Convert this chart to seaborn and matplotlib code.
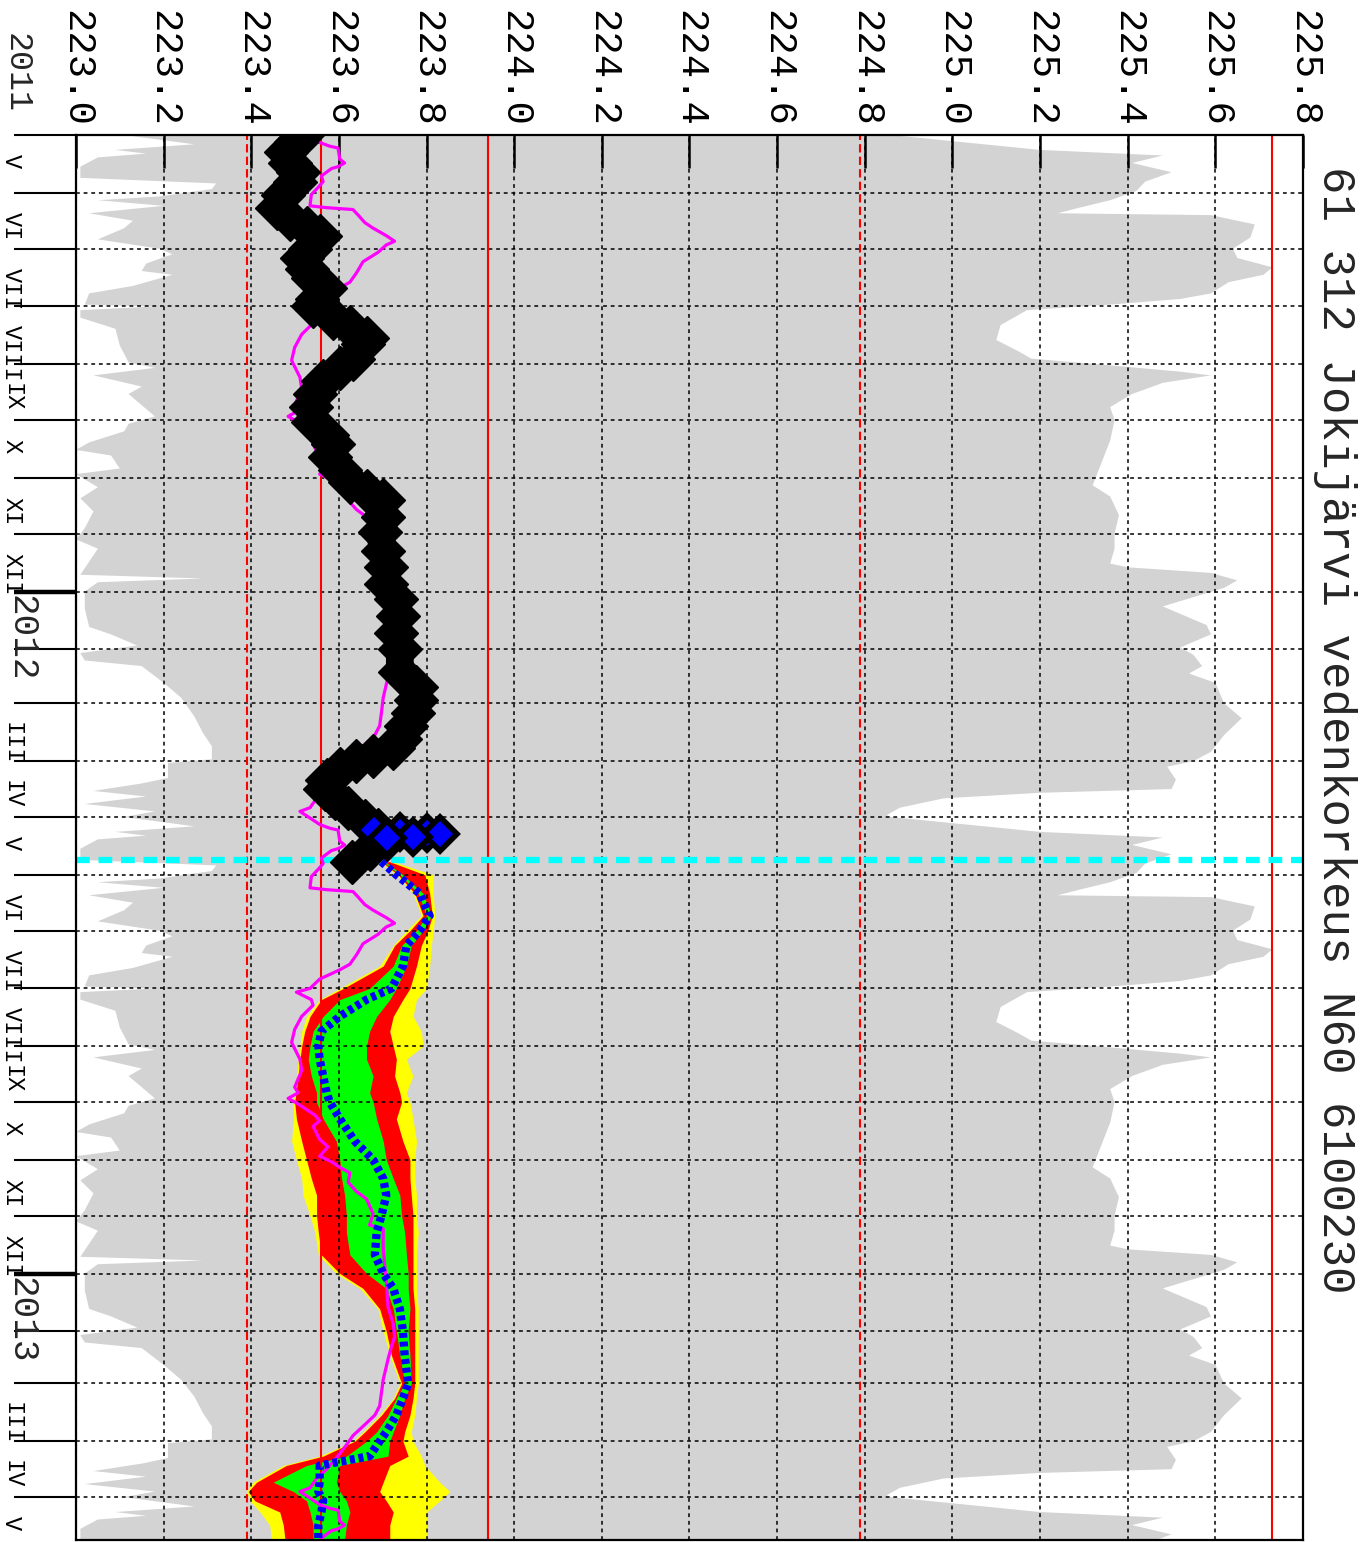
import pandas as pd
import numpy as np
import seaborn as sns
import matplotlib
matplotlib.use("Agg")
from matplotlib import pyplot as plt
import matplotlib.dates as mdates
import matplotlib.transforms as mtransforms
from matplotlib.ticker import FuncFormatter, NullFormatter

START = pd.Timestamp("2011-05-01")
END = pd.Timestamp("2013-05-24")
NOW = pd.Timestamp("2012-05-24")

title = "61 312 Jokijärvi vedenkorkeus N60 6100230"
value_ticks = [223.0, 223.2, 223.4, 223.6, 223.8, 224.0, 224.2, 224.4,
               224.6, 224.8, 225.0, 225.2, 225.4, 225.6, 225.8]
roman = ["", "I", "II", "III", "IV", "V", "VI", "VII", "VIII", "IX", "X", "XI", "XII"]
year_labels = ["2012", "2013"]

# reference levels (red lines)
ref_solid = [223.56, 223.94, 225.73]
ref_dashed = [223.0, 223.39, 224.79]

# climatology by day of year (season May -> April)
max_md = ["05-01", "05-09", "05-12", "05-16", "05-21", "05-26", "05-31",
          "06-05", "06-09", "06-12", "06-13", "06-18", "06-25",
          "07-01", "07-06", "07-11", "07-15", "07-19", "07-25", "07-28", "07-31",
          "08-03", "08-11", "08-19", "08-25", "08-29",
          "09-01", "09-05", "09-07", "09-11", "09-17", "09-24",
          "10-01", "10-12", "10-24",
          "11-05", "11-11", "11-21",
          "12-01", "12-09", "12-17", "12-19", "12-22", "12-26", "12-30",
          "01-04", "01-09", "01-19", "01-24", "01-31",
          "02-04", "02-10", "02-14", "02-19",
          "03-01", "03-09", "03-18", "03-27",
          "04-01", "04-04", "04-11", "04-16", "04-18", "04-21", "04-26", "04-30"]
max_level = [224.86, 225.20, 225.48, 225.41, 225.50, 225.44, 225.42,
             225.36, 225.29, 225.24, 225.59, 225.69, 225.68,
             225.64, 225.65, 225.73, 225.71, 225.63, 225.59, 225.52, 225.36,
             225.17, 225.11, 225.10, 225.15, 225.18,
             225.33, 225.52, 225.59, 225.48, 225.41, 225.36,
             225.37, 225.36, 225.34,
             225.32, 225.36, 225.38,
             225.37, 225.37, 225.36, 225.40, 225.59, 225.65, 225.62,
             225.55, 225.48, 225.58, 225.59, 225.52,
             225.55, 225.57, 225.54, 225.60,
             225.62, 225.66, 225.62, 225.59,
             225.55, 225.49, 225.51, 225.50, 225.20, 224.98, 224.88, 224.85]

min_md = ["05-01", "05-06", "05-09", "05-11", "05-13", "05-18", "05-24", "05-27", "05-30",
          "06-03", "06-05", "06-08", "06-12", "06-16", "06-20", "06-26",
          "07-01", "07-04", "07-09", "07-13", "07-15", "07-21", "07-25", "07-31",
          "08-01", "08-03", "08-07", "08-13", "08-22", "08-31",
          "09-03", "09-07", "09-13", "09-17", "09-25", "09-29",
          "10-03", "10-07", "10-13", "10-17", "10-20", "10-27", "10-30",
          "11-06", "11-12", "11-19", "11-28",
          "12-04", "12-09", "12-16", "12-23", "12-25", "12-27",
          "01-01", "01-10", "01-20", "01-24", "01-30",
          "02-03", "02-07", "02-10", "02-19", "02-27",
          "03-08", "03-17", "03-24", "03-31",
          "04-02", "04-10", "04-13", "04-17", "04-20", "04-24", "04-28"]
min_level = [223.11, 223.27, 223.09, 223.16, 223.05, 223.01, 223.01, 223.32, 223.31,
             223.19, 223.05, 223.20, 223.03, 223.13, 223.11, 223.05,
             223.19, 223.22, 223.16, 223.15, 223.22, 223.13, 223.03, 223.02,
             223.18, 223.01, 223.01, 223.09, 223.10, 223.12,
             223.18, 223.04, 223.15, 223.12, 223.16, 223.18,
             223.12, 223.11, 223.03, 223.00, 223.08, 223.10, 223.00,
             223.05, 223.01, 223.04, 223.02,
             223.00, 223.05, 223.03, 223.01, 223.29, 223.05,
             223.02, 223.02, 223.03, 223.08, 223.14,
             223.01, 223.02, 223.15, 223.20, 223.24,
             223.27, 223.29, 223.31, 223.31,
             223.21, 223.21, 223.15, 223.04, 223.16, 223.02, 223.18]

mean_md = ["05-02", "05-05", "05-07", "05-08", "05-14", "05-16", "05-18", "05-19", "05-23", "05-26", "05-29",
           "06-02", "06-08", "06-09", "06-10", "06-13", "06-17", "06-20", "06-24", "06-27", "06-29",
           "07-03", "07-08", "07-14", "07-19", "07-22", "07-27",
           "08-01", "08-03", "08-07", "08-10", "08-16", "08-23", "08-30",
           "09-08", "09-14", "09-23", "09-26", "09-29",
           "10-02", "10-08", "10-11", "10-14", "10-21", "10-25", "10-30",
           "11-02", "11-05", "11-08", "11-13", "11-18", "11-22", "11-30",
           "12-06", "12-08", "12-18", "12-29",
           "01-05", "01-19", "01-28",
           "02-04", "02-09", "02-16", "02-27",
           "03-06", "03-13", "03-18", "03-24", "03-29",
           "04-03", "04-10", "04-16", "04-21", "04-26", "04-28"]
mean_level = [223.537, 223.556, 223.579, 223.598, 223.602, 223.613, 223.598, 223.583, 223.560, 223.564, 223.553,
              223.537, 223.534, 223.572, 223.632, 223.644, 223.659, 223.678, 223.708, 223.727, 223.708,
              223.689, 223.655, 223.640, 223.625, 223.602, 223.556,
              223.534, 223.503, 223.537, 223.541, 223.515, 223.499, 223.492,
              223.511, 223.515, 223.499, 223.507, 223.484,
              223.507, 223.545, 223.556, 223.541, 223.556, 223.575, 223.556,
              223.583, 223.602, 223.625, 223.621, 223.640, 223.663, 223.678,
              223.670, 223.701, 223.701, 223.705,
              223.708, 223.712, 223.724,
              223.727, 223.720, 223.712, 223.701,
              223.697, 223.693, 223.682, 223.655, 223.632,
              223.617, 223.594, 223.572, 223.549, 223.534, 223.511]

# observed water level
obs_dates = ["2011-05-01", "2011-05-05", "2011-05-10", "2011-05-16", "2011-05-21", "2011-05-26",
             "2011-06-02", "2011-06-09", "2011-06-15", "2011-06-20", "2011-06-24",
             "2011-07-01", "2011-07-06", "2011-07-12", "2011-07-17", "2011-07-22", "2011-07-28",
             "2011-08-01", "2011-08-07", "2011-08-12", "2011-08-18", "2011-08-21", "2011-08-29",
             "2011-09-03", "2011-09-10", "2011-09-17", "2011-09-24",
             "2011-10-02", "2011-10-09", "2011-10-14", "2011-10-21", "2011-10-28",
             "2011-11-03", "2011-11-08", "2011-11-13", "2011-11-22", "2011-11-30",
             "2011-12-10", "2011-12-19", "2011-12-28",
             "2012-01-05", "2012-01-14", "2012-01-23",
             "2012-02-01", "2012-02-13", "2012-02-21", "2012-02-28",
             "2012-03-06", "2012-03-13", "2012-03-20", "2012-03-25", "2012-03-29",
             "2012-04-01", "2012-04-05", "2012-04-11", "2012-04-16", "2012-04-21", "2012-04-26",
             "2012-05-03", "2012-05-08", "2012-05-13", "2012-05-18", "2012-05-25"]
obs_level = [223.515, 223.503, 223.480, 223.488, 223.507, 223.499,
             223.473, 223.458, 223.488, 223.526, 223.556,
             223.534, 223.515, 223.526, 223.541, 223.568, 223.549,
             223.541, 223.587, 223.625, 223.663, 223.655, 223.632,
             223.602, 223.564, 223.545, 223.537,
             223.541, 223.572, 223.587, 223.579, 223.602,
             223.625, 223.663, 223.701, 223.701, 223.693,
             223.701, 223.708, 223.708,
             223.731, 223.735, 223.731,
             223.739, 223.739, 223.777, 223.777,
             223.769, 223.754, 223.739, 223.724, 223.678,
             223.640, 223.602, 223.572, 223.568, 223.590, 223.620,
             223.660, 223.690, 223.710, 223.670, 223.630]

spike_dates = ["2012-05-08 00:00", "2012-05-09 00:00", "2012-05-09 12:00", "2012-05-10 00:00",
               "2012-05-11 12:00", "2012-05-12 12:00"]
spike_level = [223.68, 223.74, 223.80, 223.83, 223.77, 223.71]

# forecast bands
fc_dates = ["2012-05-25", "2012-06-01", "2012-06-11", "2012-06-23", "2012-07-01", "2012-07-09",
            "2012-07-20", "2012-08-01", "2012-08-07", "2012-08-16", "2012-08-24", "2012-09-01",
            "2012-09-08", "2012-09-17", "2012-09-26", "2012-10-01", "2012-10-10", "2012-10-22",
            "2012-11-01", "2012-11-11", "2012-11-20", "2012-12-01", "2012-12-10", "2012-12-22",
            "2013-01-01", "2013-01-09", "2013-01-20", "2013-02-01", "2013-02-14", "2013-03-01",
            "2013-03-09", "2013-03-18", "2013-03-27", "2013-04-01", "2013-04-09", "2013-04-14",
            "2013-04-23", "2013-04-28", "2013-05-03", "2013-05-09", "2013-05-16", "2013-05-24"]
fc_yellow_lo = [223.693, 223.731, 223.769, 223.788, 223.754, 223.724, 223.693, 223.602, 223.556, 223.526,
                223.515, 223.511, 223.507, 223.503, 223.499, 223.496, 223.496, 223.492, 223.503, 223.515,
                223.518, 223.534, 223.545, 223.553, 223.594, 223.648, 223.689, 223.701, 223.716, 223.739,
                223.724, 223.693, 223.655, 223.632, 223.556, 223.473, 223.404, 223.389, 223.397, 223.420,
                223.442, 223.446]
fc_red_lo = [223.697, 223.735, 223.773, 223.792, 223.762, 223.727, 223.701, 223.610, 223.560, 223.534,
             223.522, 223.515, 223.511, 223.507, 223.502, 223.499, 223.503, 223.515, 223.526, 223.537,
             223.549, 223.549, 223.553, 223.560, 223.602, 223.655, 223.693, 223.708, 223.720, 223.743,
             223.727, 223.697, 223.659, 223.636, 223.564, 223.480, 223.412, 223.393, 223.408, 223.465,
             223.473, 223.477]
fc_green_lo = [223.701, 223.739, 223.781, 223.800, 223.777, 223.743, 223.724, 223.670, 223.602, 223.564,
               223.541, 223.534, 223.530, 223.537, 223.549, 223.549, 223.564, 223.594, 223.602, 223.606,
               223.613, 223.617, 223.617, 223.625, 223.663, 223.708, 223.724, 223.731, 223.739, 223.750,
               223.731, 223.712, 223.686, 223.663, 223.617, 223.526, 223.450, 223.496, 223.526, 223.534,
               223.541, 223.541]
fc_median = [223.697, 223.731, 223.784, 223.807, 223.784, 223.754, 223.746, 223.720, 223.663, 223.602,
             223.560, 223.553, 223.556, 223.564, 223.572, 223.579, 223.602, 223.636, 223.678, 223.701,
             223.708, 223.697, 223.686, 223.682, 223.701, 223.724, 223.739, 223.746, 223.750, 223.758,
             223.746, 223.731, 223.708, 223.693, 223.670, 223.556, 223.556, 223.553, 223.564, 223.560,
             223.553, 223.553]
fc_green_hi = [223.705, 223.746, 223.792, 223.811, 223.792, 223.765, 223.754, 223.731, 223.716, 223.686,
               223.670, 223.663, 223.663, 223.678, 223.670, 223.678, 223.686, 223.701, 223.708, 223.724,
               223.739, 223.743, 223.750, 223.754, 223.758, 223.758, 223.762, 223.758, 223.762, 223.765,
               223.750, 223.739, 223.724, 223.716, 223.712, 223.602, 223.594, 223.602, 223.617, 223.625,
               223.617, 223.613]
fc_red_hi = [223.716, 223.796, 223.807, 223.813, 223.803, 223.788, 223.777, 223.762, 223.746, 223.724,
             223.716, 223.724, 223.731, 223.727, 223.739, 223.743, 223.731, 223.746, 223.762, 223.762,
             223.765, 223.769, 223.769, 223.769, 223.769, 223.769, 223.773, 223.773, 223.773, 223.773,
             223.769, 223.762, 223.750, 223.746, 223.758, 223.716, 223.701, 223.693, 223.708, 223.724,
             223.716, 223.716]
fc_yellow_hi = [223.724, 223.815, 223.815, 223.819, 223.815, 223.811, 223.807, 223.800, 223.777, 223.769,
                223.788, 223.792, 223.754, 223.769, 223.754, 223.762, 223.769, 223.777, 223.773, 223.773,
                223.777, 223.777, 223.781, 223.777, 223.777, 223.777, 223.781, 223.781, 223.781, 223.781,
                223.777, 223.773, 223.765, 223.769, 223.788, 223.796, 223.830, 223.853, 223.830, 223.800,
                223.800, 223.800]


def season_series(md, vals):
    # repeat a day-of-year climatology over every season in the plot
    dates, out = [], []
    for y0 in (2011, 2012, 2013):
        for d, v in zip(md, vals, strict=True):
            yr = y0 if int(d[:2]) >= 5 else y0 + 1
            dates.append(pd.Timestamp(f"{yr}-{d}"))
            out.append(v)
    s = pd.Series(out, index=pd.DatetimeIndex(dates))
    return s[s.index <= END + pd.Timedelta(days=20)]


def dnum(d):
    if isinstance(d, (str, pd.Timestamp)):
        return mdates.date2num(pd.Timestamp(d))
    return mdates.date2num(pd.to_datetime(list(d), format="mixed"))


sns.set_style("ticks")
plt.rcParams["font.family"] = ["Liberation Mono", "DejaVu Sans Mono"]
plt.rcParams["axes.edgecolor"] = "black"
plt.rcParams["xtick.color"] = "black"
plt.rcParams["ytick.color"] = "black"

fig = plt.figure(figsize=(13.66, 15.42), dpi=100)
ax = fig.add_axes([76 / 1366, 2 / 1542, 1227 / 1366, 1405 / 1542])

# gray envelope min..max
cmax = season_series(max_md, max_level)
cmin = season_series(min_md, min_level)
poly_x = np.r_[cmax.values, cmin.values[::-1]]
poly_y = np.r_[dnum(cmax.index), dnum(cmin.index)[::-1]]
ax.fill(poly_x, poly_y, color="#d3d3d3", lw=0, zorder=0.5)

# forecast bands
fy = dnum(fc_dates)
ax.fill_betweenx(fy, fc_yellow_lo, fc_yellow_hi, color="#ffff00", lw=0, zorder=1)
ax.fill_betweenx(fy, fc_red_lo, fc_red_hi, color="#ff0000", lw=0, zorder=1.1)
ax.fill_betweenx(fy, fc_green_lo, fc_green_hi, color="#00ff00", lw=0, zorder=1.2)

# reference lines
for v in ref_solid:
    ax.axvline(v, color="red", lw=1.5, zorder=3)
for v in ref_dashed:
    ax.axvline(v, color="red", lw=1.5, ls=(0, (4, 2)), zorder=3)

# now line
ax.axhline(dnum(NOW), color="#00ffff", lw=4.5, ls=(0, (2.2, 1.4)), zorder=3.5)

# mean climatology
cmean = season_series(mean_md, mean_level)
sns.lineplot(x=cmean.values, y=dnum(cmean.index), orient="y", sort=False, estimator=None,
             color="#ff00ff", lw=2.3, ax=ax, zorder=4)

# forecast median
sns.lineplot(x=fc_median, y=fy, orient="y", sort=False, estimator=None,
             color="#0000ff", lw=6, linestyle=(0, (0.6, 0.45)), ax=ax, zorder=5)

# observed
oy = dnum(obs_dates)
sns.lineplot(x=obs_level, y=oy, orient="y", sort=False, estimator=None,
             color="black", lw=20, ax=ax, zorder=6, solid_joinstyle="round",
             solid_capstyle="round")
ax.plot(obs_level, oy, "D", ms=22, color="black", zorder=6)
sy = dnum(spike_dates)
ax.plot(spike_level, sy, color="#0000ff", lw=9, zorder=6.5)
ax.plot(spike_level, sy, "D", ms=17, mfc="#0000ff", mec="black", mew=4, zorder=6.6)

# axes
ax.set_xlim(223.0, 225.8)
ax.set_ylim(dnum(END), dnum(START))
ax.set_xlabel("")
ax.set_ylabel("")
ax.xaxis.tick_top()
ax.set_xticks(value_ticks)
ax.set_xticklabels([f"{v:.1f}" for v in value_ticks])
ax.tick_params(axis="x", which="major", direction="in", length=24, width=1.8, pad=6,
               labelsize=28, labelrotation=270, top=True, bottom=False)

ax.yaxis.set_major_locator(mdates.MonthLocator())
ax.yaxis.set_major_formatter(NullFormatter())
ax.yaxis.set_minor_locator(mdates.MonthLocator(bymonthday=16))


def month_label(x, pos):
    m = mdates.num2date(x).month
    return "" if m in (1, 2) else roman[m]


ax.yaxis.set_minor_formatter(FuncFormatter(month_label))
ax.tick_params(axis="y", which="major", direction="out", length=45, width=1.5,
               left=True, right=False)
ax.tick_params(axis="y", which="minor", length=0, pad=38, labelsize=17,
               labelrotation=270, left=True, right=False)

for tick, loc in zip(ax.yaxis.get_major_ticks(), ax.yaxis.get_majorticklocs()):
    if mdates.num2date(loc).month == 1:
        tick.tick1line.set_markersize(45)
        tick.tick1line.set_markeredgewidth(3.2)

ax.grid(True, which="major", color="black", ls=(0, (2.5, 2.5)), lw=1.1)
ax.set_axisbelow(False)
for sp in ax.spines.values():
    sp.set_color("black")
    sp.set_linewidth(1.6)
    sp.set_zorder(7)

# year labels
trans = mtransforms.blended_transform_factory(ax.transAxes, ax.transData)
for yl in year_labels:
    ax.text(-0.045, dnum(f"{yl}-01-03"), yl, transform=trans, rotation=270,
            ha="center", va="top", fontsize=26, clip_on=False)
ax.text(-0.049, 1.0438, "2011", transform=ax.transAxes, rotation=270,
        ha="center", va="center", fontsize=24, clip_on=False)

fig.text(1335 / 1366, 1 - 730 / 1542, title, rotation=270, ha="center", va="center",
         fontsize=33)

fig.savefig("out.png", dpi=100)
